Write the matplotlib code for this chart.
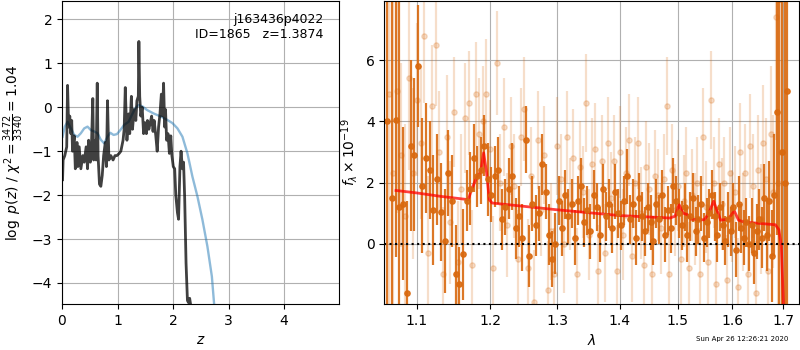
# -*- coding: utf-8 -*-
import numpy as np
import matplotlib
matplotlib.use('Agg')
import matplotlib.pyplot as plt

# p(z) curve
z_grid = [0.01, 0.02, 0.05, 0.085, 0.10, 0.12, 0.14, 0.16, 0.175, 0.19, 0.22, 0.24,
          0.27, 0.285, 0.31, 0.34, 0.375, 0.40, 0.435, 0.46, 0.48, 0.51, 0.53, 0.555,
          0.57, 0.60, 0.615, 0.635, 0.65, 0.675, 0.70, 0.725, 0.75, 0.78, 0.80, 0.82,
          0.845, 0.88, 0.92, 0.955, 0.99, 1.03, 1.06, 1.10, 1.12, 1.14, 1.17, 1.20,
          1.22, 1.25, 1.27, 1.30, 1.33, 1.35, 1.375, 1.385, 1.40, 1.42, 1.445, 1.47,
          1.495, 1.52, 1.54, 1.565, 1.59, 1.615, 1.64, 1.66, 1.69, 1.715, 1.74, 1.765,
          1.79, 1.81, 1.83, 1.85, 1.865, 1.885, 1.91, 1.935, 1.96, 1.98, 2.005, 2.03,
          2.05, 2.08, 2.10, 2.125, 2.145, 2.17, 2.19, 2.21, 2.235, 2.26, 2.28, 2.30,
          2.33, 2.40]
logpz = [-1.65, -1.2, -1.1, -0.9, 0.5, -0.45, -0.2, -0.6, -0.3, -1.0, -0.65, -1.4,
         -0.8, -1.35, -0.9, -1.4, -1.1, -1.25, -0.9, -1.4, -0.75, -1.25, -0.9, 0.2,
         -1.2, -0.75, -1.2, 0.55, -1.1, -1.75, -1.8, -1.55, -1.1, -0.8, -1.35, 0.15,
         -1.2, -1.1, -1.2, -1.1, -1.1, -1.05, -1.0, -0.75, -0.5, 0.45, -0.75, -0.15,
         -0.6, 0.25, -0.5, -0.05, -0.3, 0.15, 0.25, 1.5, 0.25, -0.2, 0.0, -0.6,
         -0.35, -0.6, -0.3, -0.5, -0.35, -0.2, -0.55, -0.3, -0.65, -1.0, -0.45, -0.15,
         0.3, -0.2, 0.55, -0.45, -0.05, -0.75, -0.6, -1.05, -0.65, -1.1, -1.35, -1.4,
         -2.0, -2.4, -2.55, -1.35, -1.0, -1.4, -1.25, -2.05, -3.55, -4.4, -4.45, -4.35,
         -4.6, -6.0]

# prior curve
z_prior = [0.01, 0.05, 0.10, 0.16, 0.22, 0.28, 0.34, 0.40, 0.46, 0.52, 0.58, 0.64,
           0.70, 0.76, 0.82, 0.87, 0.93, 0.99, 1.05, 1.12, 1.20, 1.26, 1.32, 1.38,
           1.45, 1.53, 1.65, 1.78, 1.90, 1.99, 2.08, 2.17, 2.26, 2.35, 2.44, 2.53,
           2.62, 2.70, 2.74, 2.80]
log_prior = [-0.67, -0.44, -0.33, -0.48, -0.63, -0.67, -0.59, -0.48, -0.44, -0.52,
             -0.55, -0.59, -0.74, -0.82, -0.67, -0.58, -0.63, -0.61, -0.52, -0.40,
             -0.33, -0.17, -0.02, 0.05, 0.02, -0.06, -0.14, -0.21, -0.29, -0.36,
             -0.48, -0.67, -1.05, -1.58, -2.03, -2.56, -3.17, -3.85, -4.47, -5.2]

# spectrum, first grism orientation (dark points)
wave_a = [1.062, 1.068, 1.073, 1.077, 1.082, 1.087, 1.092, 1.097, 1.102, 1.107,
          1.112, 1.117, 1.122, 1.127, 1.132, 1.137, 1.142, 1.147, 1.152, 1.157,
          1.162, 1.167, 1.172, 1.177, 1.182, 1.187, 1.192, 1.197, 1.202, 1.207,
          1.212, 1.217, 1.222, 1.227, 1.232, 1.237, 1.242, 1.247, 1.252, 1.257,
          1.262, 1.267, 1.272, 1.277, 1.282, 1.287, 1.292, 1.297, 1.302, 1.307,
          1.312, 1.317, 1.322, 1.327, 1.332, 1.337, 1.342, 1.347, 1.352, 1.357,
          1.362, 1.367, 1.372, 1.377, 1.382, 1.387, 1.392, 1.397, 1.402, 1.407,
          1.412, 1.417, 1.422, 1.427, 1.432, 1.437, 1.442, 1.447, 1.452, 1.457,
          1.462, 1.467, 1.472, 1.477, 1.482, 1.487, 1.492, 1.497, 1.502, 1.507,
          1.512, 1.517, 1.522, 1.527, 1.532, 1.537, 1.542, 1.547, 1.552, 1.557,
          1.562, 1.567, 1.572, 1.577, 1.582, 1.587, 1.592, 1.597, 1.602, 1.607,
          1.612, 1.617, 1.622, 1.627, 1.632, 1.637, 1.642, 1.647, 1.652, 1.657,
          1.662, 1.667, 1.672, 1.677, 1.682, 1.687, 1.692, 1.697, 1.703, 1.708]
flux_a = [4.0, 1.5, 4.05, 1.2, 1.3, -1.6, 3.2, 2.9, 5.8, 1.9,
          2.8, 2.4, 1.1, 2.1, 1.05, 0.1, 2.3, 1.4, -1.0, -1.3,
          -0.35, 1.4, 1.8, 2.8, 2.2, 2.4, 3.2, 2.1, 1.6, 2.2,
          2.4, 0.8, 1.2, 1.8, 2.2, 0.5, 0.9, 0.2, 3.4, -0.4,
          1.3, 0.6, 1.0, 2.6, 1.7, 0.3, -0.5, 0.0, 1.4, 0.5,
          1.6, 0.9, 1.3, 0.2, 1.4, 1.9, 0.7, 1.1, 0.4, 1.6,
          1.2, 0.3, 1.8, 0.9, 1.3, 0.5, 1.7, 1.0, 0.6, 1.4,
          2.2, 0.8, 1.3, 0.2, 1.5, 0.9, 0.4, 1.2, 0.7, 0.1,
          1.3, 0.8, 1.6, 0.3, 1.1, 0.5, 1.9, 1.4, 1.0, 0.6,
          1.2, 0.3, 0.9, 1.5, 0.4, 0.8, 1.3, 0.2, 0.7, 1.0,
          1.6, 0.9, 0.3, 1.2, 0.6, 0.1, 0.8, 0.4, 1.2, -0.2,
          1.3, 0.5, 0.2, 0.7, 0.0, 0.6, -0.3, 0.4, 0.8, 0.2,
          1.5, 0.3, 1.4, -0.4, 1.6, 4.3, 8.0, 3.0, 2.0, 5.0]
err_a = [20, 20, 4.5, 20, 2.5, 3.0, 2.8, 2.5, 2.0, 2.2,
         1.8, 1.6, 1.8, 1.5, 1.6, 1.7, 1.4, 1.5, 1.6, 1.2,
         1.5, 1.0, 1.2, 1.1, 1.0, 1.1, 1.0, 1.2, 0.9, 1.0,
         1.1, 1.0, 0.9, 1.0, 1.1, 1.0, 1.0, 1.1, 1.1, 1.0,
         0.9, 1.0, 0.9, 1.0, 0.9, 1.0, 0.9, 1.0, 0.8, 0.9,
         0.8, 0.9, 0.8, 0.9, 0.8, 0.9, 0.8, 0.8, 0.9, 0.8,
         0.8, 0.9, 0.8, 0.8, 0.8, 0.8, 0.9, 0.8, 0.8, 0.8,
         0.9, 0.8, 0.8, 0.9, 0.8, 0.8, 0.8, 0.8, 0.9, 0.8,
         0.8, 0.8, 0.8, 0.9, 0.8, 0.8, 0.9, 0.8, 0.8, 0.8,
         0.8, 0.9, 0.8, 0.8, 0.8, 0.8, 0.9, 0.8, 0.8, 0.8,
         0.8, 0.8, 0.9, 0.8, 0.8, 0.8, 0.9, 0.8, 0.8, 0.9,
         0.9, 0.8, 0.9, 0.8, 0.9, 0.9, 1.0, 0.9, 1.0, 1.0,
         1.1, 1.2, 1.3, 1.5, 2.0, 4.0, 20, 20, 20, 20]

# second orientation (light points)
wave_b = [1.065, 1.070, 1.075, 1.080, 1.085, 1.090, 1.095, 1.100, 1.105, 1.110,
          1.115, 1.120, 1.125, 1.130, 1.135, 1.140, 1.145, 1.150, 1.155, 1.160,
          1.165, 1.170, 1.175, 1.180, 1.185, 1.190, 1.195, 1.200, 1.205, 1.210,
          1.215, 1.220, 1.225, 1.230, 1.235, 1.240, 1.245, 1.250, 1.255, 1.260,
          1.265, 1.270, 1.275, 1.280, 1.285, 1.290, 1.295, 1.300, 1.305, 1.310,
          1.315, 1.320, 1.325, 1.330, 1.335, 1.340, 1.345, 1.350, 1.355, 1.360,
          1.365, 1.370, 1.375, 1.380, 1.385, 1.390, 1.395, 1.400, 1.405, 1.410,
          1.415, 1.420, 1.425, 1.430, 1.435, 1.440, 1.445, 1.450, 1.455, 1.460,
          1.465, 1.470, 1.475, 1.480, 1.485, 1.490, 1.495, 1.500, 1.505, 1.510,
          1.515, 1.520, 1.525, 1.530, 1.535, 1.540, 1.545, 1.550, 1.555, 1.560,
          1.565, 1.570, 1.575, 1.580, 1.585, 1.590, 1.595, 1.600, 1.605, 1.610,
          1.615, 1.620, 1.625, 1.630, 1.635, 1.640, 1.645, 1.650, 1.655, 1.660,
          1.665, 1.670, 1.675, 1.680, 1.685, 1.690, 1.695]
flux_b = [4.9, 2.3, 5.0, 2.9, 0.9, 5.4, 2.3, 4.7, 3.3, 6.8,
          -0.3, 4.5, 6.5, 3.0, -1.0, 3.5, 0.7, 4.3, -0.6, 1.8,
          4.1, 4.6, -0.7, 4.9, 3.6, 4.0, 4.9, 3.1, -0.8, 5.9,
          2.0, 3.8, 0.6, 3.2, 1.9, -0.5, 3.5, 4.4, -0.8, 2.2,
          -1.9, 3.4, 1.1, 2.9, -1.5, 0.4, -1.0, 3.2, 2.1, 0.0,
          3.5, 1.3, 2.8, -1.0, 2.5, 1.7, 4.6, 0.3, 2.6, 3.1,
          -0.9, 2.7, -0.3, 3.3, 1.5, 2.7, -0.9, 3.0, 0.3, 2.3,
          3.4, -0.4, 2.0, 3.3, 1.0, -0.7, 2.5, 1.8, -1.0, 2.2,
          1.6, 0.5, 2.1, 4.5, -1.0, 2.4, 1.1, 1.9, -0.5, 1.4,
          2.3, -0.8, 1.6, 0.8, 2.0, -1.0, 3.5, 1.2, -0.6, 4.7,
          2.0, -1.3, 2.6, 1.3, 2.0, -1.2, 2.3, 0.9, 1.7, -1.4,
          3.0, 0.7, 2.3, -1.0, 3.2, 1.9, -1.6, 2.4, 0.8, 3.3,
          2.1, -0.9, 3.6, 1.7, 7.4, 2.0, 3.0]
err_b = [20, 20, 4, 3, 3, 3, 2.8, 2.5, 2.5, 2.2,
         2.5, 2.0, 2.0, 2.0, 2.2, 2.0, 2.0, 1.8, 2.0, 1.8,
         1.8, 1.7, 1.8, 1.7, 1.8, 1.8, 1.8, 1.6, 1.7, 1.7,
         1.6, 1.6, 1.7, 1.6, 1.7, 1.6, 1.6, 1.7, 1.6, 1.6,
         1.7, 1.6, 1.5, 1.6, 1.6, 1.6, 1.5, 1.6, 1.5, 1.6,
         1.5, 1.5, 1.6, 1.5, 1.5, 1.5, 1.6, 1.5, 1.5, 1.5,
         1.5, 1.5, 1.6, 1.5, 1.5, 1.5, 1.5, 1.5, 1.5, 1.5,
         1.5, 1.5, 1.5, 1.5, 1.5, 1.5, 1.5, 1.5, 1.5, 1.5,
         1.5, 1.5, 1.5, 1.6, 1.5, 1.5, 1.5, 1.5, 1.5, 1.5,
         1.5, 1.5, 1.5, 1.5, 1.5, 1.5, 1.6, 1.5, 1.5, 1.6,
         1.5, 1.5, 1.5, 1.5, 1.5, 1.5, 1.5, 1.5, 1.5, 1.6,
         1.6, 1.6, 1.6, 1.6, 1.7, 1.7, 1.7, 1.8, 1.8, 1.9,
         2.0, 2.0, 2.2, 2.5, 4, 20, 20]

# best-fit model
wave_model = [1.0733, 1.100, 1.131, 1.1696, 1.174, 1.180, 1.187, 1.191, 1.195, 1.199,
              1.203, 1.299, 1.400, 1.486, 1.495, 1.502, 1.509, 1.517, 1.524, 1.548,
              1.556, 1.565, 1.571, 1.578, 1.592, 1.604, 1.612, 1.622, 1.684, 1.691,
              1.696, 1.700, 1.702]
flux_model = [1.74, 1.66, 1.55, 1.44, 1.77, 2.1, 2.37, 2.97, 2.35, 1.44,
              1.33, 1.11, 0.92, 0.84, 0.90, 1.28, 1.0, 0.95, 0.8, 0.78,
              1.0, 1.39, 1.1, 0.77, 0.8, 1.07, 0.77, 0.71, 0.62, 0.46,
              -0.09, -1.84, -3.0]

lam_ticks = [1.1, 1.2, 1.3, 1.4, 1.5, 1.6, 1.7]
label_root = "j163436p4022"
label_id = "ID=1865   z=1.3874"
stamp = "Sun Apr 26 12:26:21 2020"

orange = '#d9690f'


def plot_pz(ax):
    ax.plot(z_prior, log_prior, color='#1f77b4', alpha=0.5, lw=1.7)
    ax.plot(z_grid, logpz, color='k', alpha=0.75, lw=2)
    ax.set_xlim(0, 4.99)
    ax.set_ylim(-4.48, 2.42)
    ax.set_yticks([-4, -3, -2, -1, 0, 1, 2])
    ax.grid()
    ax.set_xlabel('$z$')
    ax.set_ylabel(r'$\log\ p(z)$ / $\chi^2=\frac{3472}{3340}=1.04$')
    ax.text(0.945, 0.96, label_root + '\n' + label_id, ha='right', va='top',
            transform=ax.transAxes, fontsize=9)


def plot_spec(ax):
    ax.errorbar(wave_b, flux_b, yerr=err_b, marker='o', ms=3.8, ls='none',
                color=orange, alpha=0.22, elinewidth=1.6)
    ax.errorbar(wave_a, flux_a, yerr=err_a, marker='o', ms=3.8, ls='none',
                color=orange, alpha=0.9, elinewidth=1.6)
    ax.plot(wave_model, flux_model, color='r', alpha=0.75, lw=2)
    ax.axhline(0, color='k', ls=':', lw=1.5)

    ax.set_xscale('log')
    ax.set_xlim(1.0585, 1.7327)
    ax.set_ylim(-1.97, 7.93)
    ax.set_xticks(lam_ticks)
    ax.set_xticklabels([str(t) for t in lam_ticks])
    ax.xaxis.set_minor_locator(plt.NullLocator())
    ax.set_yticks([0, 2, 4, 6])
    ax.grid()
    ax.set_xlabel(r'$\lambda$')
    ax.set_ylabel(r'$f_\lambda\times10^{-19}$')


def main():
    fig = plt.figure(figsize=(8, 3.5), dpi=100)
    ax1 = fig.add_axes([0.0775, 0.1314, 0.3462, 0.8656])
    ax2 = fig.add_axes([0.4804, 0.1314, 0.5188, 0.8656])
    plot_pz(ax1)
    plot_spec(ax2)
    fig.text(0.985, 0.022, stamp, ha='right', va='bottom', fontsize=5)
    plt.savefig('out.png', dpi=100)


if __name__ == "__main__":
    main()
